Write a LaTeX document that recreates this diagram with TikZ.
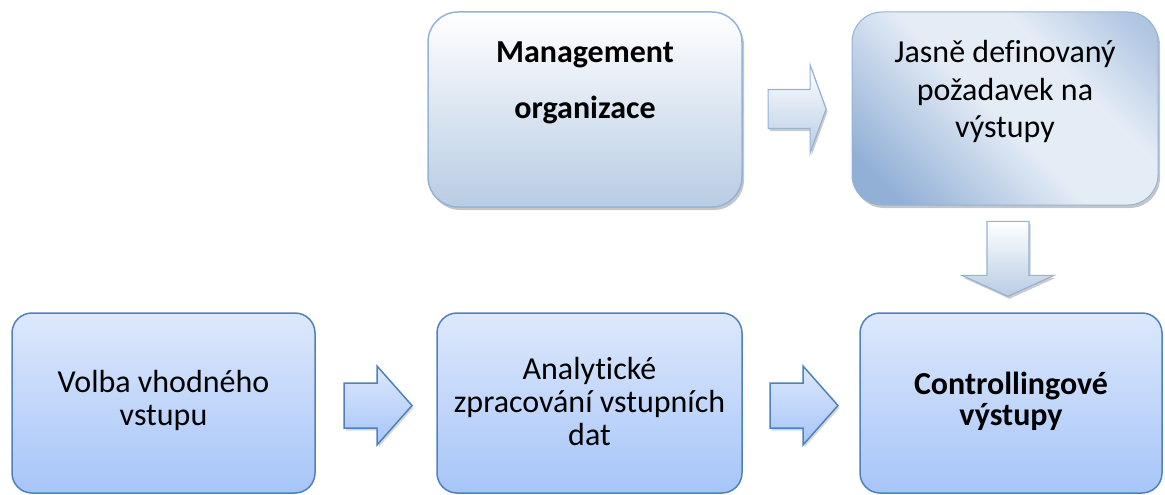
\documentclass[tikz,border=0pt]{standalone}
\usepackage{fontspec}
\setmainfont{Carlito}[RawFeature=-liga]
\usetikzlibrary{calc,shadows}

\definecolor{edgeDark}{RGB}{79,129,189}
\definecolor{edgePale}{RGB}{149,179,215}
\definecolor{fillTop}{RGB}{221,232,252}
\definecolor{fillBot}{RGB}{166,197,248}
\definecolor{paleTop}{RGB}{255,255,255}
\definecolor{paleBot}{RGB}{184,204,228}
\definecolor{bandDark}{RGB}{146,176,214}
\definecolor{bandLight}{RGB}{228,236,246}

% diagonal band: darker corners, broad light stripe through the middle
\pgfdeclarehorizontalshading{reqband}{100bp}{%
  color(0bp)=(bandDark); color(22bp)=(bandDark);
  color(34bp)=(bandDark!55!bandLight);
  color(48bp)=(bandLight); color(64bp)=(bandLight);
  color(80bp)=(bandDark!60!bandLight); color(100bp)=(bandDark)}

\begin{document}
\begin{tikzpicture}[x=1pt,y=-1pt,
  every node/.style={align=center, inner sep=0pt},
  txt/.style={font=\fontsize{32}{33}\selectfont},
  flowbox/.style={draw=edgeDark, line width=1.5pt, rounded corners=20pt,
    top color=fillTop, bottom color=fillBot,
    minimum height=180pt},
  mgmtbox/.style={draw=edgePale, line width=1.5pt, rounded corners=30pt,
    top color=paleTop, bottom color=paleBot,
    minimum width=314pt, minimum height=195pt,
    drop shadow={shadow xshift=2pt, shadow yshift=-3pt, opacity=0.45, fill=gray}},
  reqbox/.style={draw=edgePale, line width=1pt, rounded corners=30pt,
    shading=reqband, shading angle=45,
    minimum width=306pt, minimum height=193pt,
    drop shadow={shadow xshift=2pt, shadow yshift=-3pt, opacity=0.45, fill=gray}},
  palearrow/.style={draw=edgePale, line width=1.2pt, line join=miter,
    top color=paleTop, bottom color=paleBot,
    drop shadow={shadow xshift=1.5pt, shadow yshift=-2.5pt, opacity=0.4, fill=gray}},
  bluearrow/.style={draw=edgeDark, line width=1.5pt, line join=miter,
    top color=fillTop, bottom color=fillBot,
    drop shadow={shadow xshift=1.5pt, shadow yshift=-2.5pt, opacity=0.3, fill=gray}},
]
\useasboundingbox (0,0) rectangle (1165,495);

% upper row
\node[mgmtbox] (mgmt) at (585,109.5) {};
\node[txt, font=\fontsize{32}{56}\selectfont\bfseries] (mgmtText) at (585,83)
  {Management\\organizace};
\node[reqbox] (req) at (1005,108.5) {};
\node[txt, font=\fontsize{32}{37.5}\selectfont] (reqText) at (1005,91.5)
  {Jasně definovaný\\požadavek na\\výstupy};

% lower row
\node[flowbox, minimum width=303pt] (vol) at (163.5,403) {};
\node[txt] (volText) at ([yshift=2.6]vol.center) {Volba vhodného\\vstupu};
\node[flowbox, minimum width=305pt] (ana) at (589.5,403) {};
\node[txt] (anaText) at ([yshift=1]ana.center) {Analytické\\zpracování vstupních\\dat};
\node[flowbox, minimum width=302pt] (ctrl) at (1011,403) {};
\node[txt, font=\fontsize{32}{31}\selectfont\bfseries] (ctrlText) at ([yshift=1.6]ctrl.center)
  {Controllingové\\výstupy};

% block arrows between the boxes
\coordinate (a1) at ($(mgmt.east)!0.5!(req.west)$);
\draw[palearrow] ([shift={(-29,-19.5)}]a1) -- ++(42,0) -- ++(0,-24.5)
  -- ++(16,44) -- ++(-16,44) -- ++(0,-24.5) -- ++(-42,0) -- cycle;

\coordinate (a2) at ($(req.south)!0.5!(ctrl.north)$);
\draw[palearrow] ([shift={(-21,-37.5)}]a2) -- ++(42,0) -- ++(0,54)
  -- ++(25,0) -- ++(-46,21) -- ++(-46,-21) -- ++(25,0) -- cycle;

\coordinate (a3) at ($(vol.east)!0.5!(ana.west)$);
\draw[bluearrow] ([shift={(-32,-20)}]a3) -- ++(33,0) -- ++(0,-17)
  -- ++(35,39.5) -- ++(-35,39.5) -- ++(0,-17) -- ++(-33,0) -- cycle;

\coordinate (a4) at ($(ana.east)!0.5!(ctrl.west)$);
\draw[bluearrow] ([shift={(-31,-20)}]a4) -- ++(33,0) -- ++(0,-17)
  -- ++(35,39.5) -- ++(-35,39.5) -- ++(0,-17) -- ++(-33,0) -- cycle;
\end{tikzpicture}
\end{document}
